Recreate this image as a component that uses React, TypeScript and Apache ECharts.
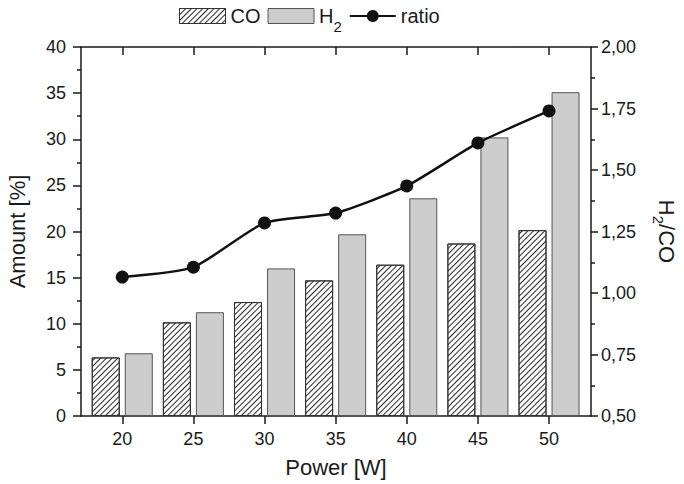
import React, { useEffect, useRef } from 'react';
import * as echarts from 'echarts';

const power = [20, 25, 30, 35, 40, 45, 50];
const coAmount = [6.35, 10.15, 12.35, 14.7, 16.4, 18.7, 20.15];
const h2Amount = [6.8, 11.25, 16.0, 19.7, 23.6, 30.2, 35.1];
const ratio = [1.065, 1.105, 1.285, 1.325, 1.435, 1.61, 1.74];
const xTicks = [20, 25, 30, 35, 40, 45, 50];

const FONT = 'Liberation Sans';
const INK = '#1a1a1a';

export default function App() {
  const ref = useRef<HTMLDivElement>(null);
  useEffect(() => {
    const chart = echarts.init(ref.current!, undefined, { renderer: 'svg' });
    const axisLine = { show: true, lineStyle: { color: INK, width: 1.5 } };
    const tickStyle = { color: INK, width: 1.5 };
    const hatch = {
      symbol: 'rect',
      symbolSize: 1,
      dashArrayX: [1, 0],
      dashArrayY: [1, 2.4],
      rotation: -Math.PI / 4,
      color: '#2a2a2a',
      backgroundColor: '#ffffff',
    };
    chart.setOption({
      animation: false,
      textStyle: { fontFamily: FONT },
      grid: { left: 81, right: 93, top: 47, bottom: 68, containLabel: false, outerBoundsMode: 'none' },
      legend: {
        left: 179,
        top: 6,
        padding: 0,
        itemWidth: 46,
        itemHeight: 15,
        itemGap: 7,
        data: [
          { name: 'CO', icon: 'rect', itemStyle: { borderColor: '#333333', borderWidth: 1 } },
          { name: 'H2', icon: 'rect', itemStyle: { borderColor: '#555555', borderWidth: 1 } },
          { name: 'ratio' },
        ],
        formatter: (n: string) => (n === 'H2' ? '{n|H}{s|2}' : '{n|' + n + '}'),
        textStyle: {
          fontFamily: FONT,
          fontSize: 20,
          color: INK,
          rich: {
            n: { fontFamily: FONT, fontSize: 20, color: INK, lineHeight: 36 },
            s: { fontFamily: FONT, fontSize: 15, color: INK, verticalAlign: 'bottom' },
          },
        },
      },
      xAxis: [
        {
          type: 'value',
          min: 17.1,
          max: 52.95,
          position: 'bottom',
          axisLine,
          axisTick: { show: true, inside: false, length: 8, customValues: xTicks, lineStyle: tickStyle },
          axisLabel: { customValues: xTicks, fontFamily: FONT, fontSize: 18, color: INK, margin: 14 },
          splitLine: { show: false },
          name: 'Power [W]',
          nameLocation: 'middle',
          nameGap: 40,
          nameTextStyle: { fontFamily: FONT, fontSize: 22, color: INK },
        },
        {
          type: 'value',
          min: 17.1,
          max: 52.95,
          position: 'top',
          axisLine,
          axisTick: { show: true, inside: true, length: 8, customValues: xTicks, lineStyle: tickStyle },
          axisLabel: { show: false },
          splitLine: { show: false },
        },
      ],
      yAxis: [
        {
          type: 'value',
          min: 0,
          max: 40,
          interval: 5,
          position: 'left',
          axisLine,
          axisTick: { show: true, inside: false, length: 8, lineStyle: tickStyle },
          minorTick: { show: true, splitNumber: 2, length: 4, lineStyle: tickStyle },
          axisLabel: { fontFamily: FONT, fontSize: 18, color: INK, margin: 15 },
          splitLine: { show: false },
          name: 'Amount [%]',
          nameLocation: 'middle',
          nameRotate: 90,
          nameGap: 53,
          nameTextStyle: { fontFamily: FONT, fontSize: 22, color: INK },
        },
        {
          type: 'value',
          min: 0.5,
          max: 2,
          interval: 0.25,
          position: 'right',
          axisLine,
          axisTick: { show: true, inside: false, length: 7, lineStyle: tickStyle },
          minorTick: { show: true, splitNumber: 2, length: 4, lineStyle: tickStyle },
          axisLabel: {
            fontFamily: FONT,
            fontSize: 18,
            color: INK,
            margin: 10,
            formatter: (v: number) => v.toFixed(2).replace('.', ','),
          },
          splitLine: { show: false },
          name: '{n|H}{s|2}{n|/CO}',
          nameLocation: 'middle',
          nameRotate: -90,
          nameGap: 60,
          nameTextStyle: {
            fontFamily: FONT,
            fontSize: 22,
            color: INK,
            rich: {
              n: { fontFamily: FONT, fontSize: 22, color: INK, lineHeight: 30 },
              s: { fontFamily: FONT, fontSize: 15, color: INK, verticalAlign: 'bottom' },
            },
          },
        },
      ],
      series: [
        {
          type: 'bar',
          name: 'CO',
          xAxisIndex: 0,
          yAxisIndex: 0,
          data: power.map((p, i) => [p, coAmount[i]]),
          barWidth: 28,
          barGap: '18%',
          itemStyle: { color: '#ffffff', borderColor: '#333333', borderWidth: 1, decal: hatch },
        },
        {
          type: 'bar',
          name: 'H2',
          xAxisIndex: 0,
          yAxisIndex: 0,
          data: power.map((p, i) => [p, h2Amount[i]]),
          barWidth: 28,
          barGap: '18%',
          itemStyle: { color: '#cdcdcd', borderColor: '#555555', borderWidth: 1 },
        },
        {
          type: 'line',
          name: 'ratio',
          xAxisIndex: 0,
          yAxisIndex: 1,
          data: power.map((p, i) => [p, ratio[i]]),
          smooth: 0.2,
          symbol: 'circle',
          symbolSize: 13,
          lineStyle: { color: '#111111', width: 2.5 },
          itemStyle: { color: '#111111' },
          z: 5,
        },
      ],
    });
    return () => chart.dispose();
  }, []);
  return <div ref={ref} style={{ position: 'absolute', left: 0, top: 0, width: 684, height: 484 }} />;
}
